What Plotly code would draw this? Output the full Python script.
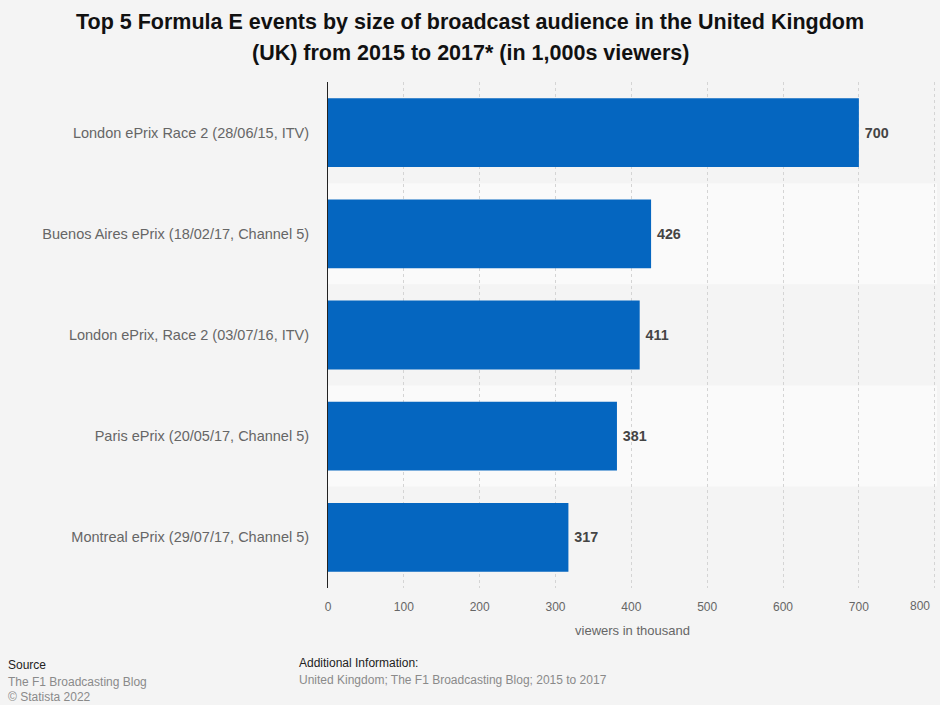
import plotly.graph_objects as go

categories = [
    "London ePrix Race 2 (28/06/15, ITV)",
    "Buenos Aires ePrix (18/02/17, Channel 5)",
    "London ePrix, Race 2 (03/07/16, ITV)",
    "Paris ePrix (20/05/17, Channel 5)",
    "Montreal ePrix (29/07/17, Channel 5)",
]
values = [700, 426, 411, 381, 317]
tick_vals = [0, 100, 200, 300, 400, 500, 600, 700, 800]
tick_text = ["0", "100", "200", "300", "400", "500", "600", "700", "800"]

title_lines = [
    "Top 5 Formula E events by size of broadcast audience in the United Kingdom",
    "(UK) from 2015 to 2017* (in 1,000s viewers)",
]
font_family = "Liberation Sans, Arial, sans-serif"

W, H = 940, 705
ML, MR, MT, MB = 328, 3, 82, 117
PW, PH = W - ML - MR, H - MT - MB

fig = go.Figure()
fig.add_trace(go.Bar(
    y=categories, x=values, orientation="h",
    marker=dict(color="#0566c0", line=dict(width=0)),
    width=0.68,
    text=["\u2009" + str(v) for v in values], textposition="outside",
    textfont=dict(family=font_family, size=14.3, color="#444444", weight="bold"),
    cliponaxis=False,
    hoverinfo="x+y",
))

band_colors = ["#f4f4f4", "#fafafa", "#f4f4f4", "#fafafa", "#f4f4f4"]
shapes = []
for i, c in enumerate(band_colors):
    shapes.append(dict(type="rect", xref="paper", yref="y", x0=0, x1=1,
                       y0=i - 0.5, y1=i + 0.5, fillcolor=c, line=dict(width=0), layer="below"))

fig.update_layout(
    width=W, height=H,
    paper_bgcolor="#f4f4f4", plot_bgcolor="#f4f4f4",
    margin=dict(l=ML, r=MR, t=MT, b=MB, autoexpand=False),
    showlegend=False,
    shapes=shapes,
    font=dict(family=font_family),
    bargap=0.32,
)
# last tick label is drawn as an annotation so it can sit inside the page edge
fig.update_xaxes(
    range=[0, 803], tickvals=tick_vals, ticktext=tick_text[:-1] + [""],
    showgrid=True, gridcolor="#d4d4d4", griddash="dot", gridwidth=1,
    zeroline=False, showline=False, automargin=False,
    tickfont=dict(size=12, color="#666666"),
    title=dict(text="viewers in thousand", font=dict(size=13, color="#666666"), standoff=12),
    ticks="", ticklabelstandoff=10,
)
fig.update_yaxes(
    categoryorder="array", categoryarray=categories, autorange="reversed",
    tickfont=dict(size=14.5, color="#666666"),
    showgrid=False, zeroline=False, automargin=False,
    showline=True, linecolor="#222222", linewidth=1,
    ticks="", ticklabelstandoff=15,
)


def px_x(x):
    return (x - ML) / PW


def px_y(y):
    return 1 - (y - MT) / PH


fig.add_annotation(text=tick_text[-1], xref="x", yref="paper", x=tick_vals[-1], y=px_y(606),
                   xanchor="center", yanchor="middle", xshift=-15, showarrow=False,
                   font=dict(family=font_family, size=12, color="#666666"))

for line, yy in zip(title_lines, [22, 53]):
    fig.add_annotation(text="<b>" + line + "</b>", xref="paper", yref="paper",
                       x=px_x(W / 2), y=px_y(yy), xanchor="center", yanchor="middle",
                       showarrow=False,
                       font=dict(family=font_family, size=21.5, color="#111111"))

ann = [
    dict(text="Source", x=6, y=665, font=dict(size=12, color="#222222")),
    dict(text="The F1 Broadcasting Blog", x=6, y=682, font=dict(size=12, color="#8a8a8a")),
    dict(text="© Statista 2022", x=6, y=697, font=dict(size=12, color="#8a8a8a")),
    dict(text="Additional Information:", x=297, y=663, font=dict(size=12, color="#222222")),
    dict(text="United Kingdom; The F1 Broadcasting Blog; 2015 to 2017", x=297, y=680, font=dict(size=12, color="#8a8a8a")),
]
for a in ann:
    fig.add_annotation(text=a["text"], xref="paper", yref="paper",
                       x=px_x(a["x"]), y=px_y(a["y"]),
                       xanchor="left", yanchor="middle", showarrow=False,
                       font=dict(family=font_family, **a["font"]))

fig.write_html("out.html", config={"displayModeBar": False},
               post_script="document.body.style.margin='0';document.body.style.overflow='hidden';")
